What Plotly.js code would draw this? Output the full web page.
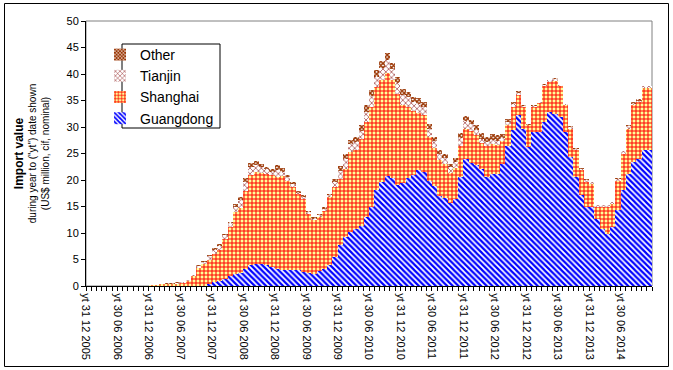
<!DOCTYPE html>
<html>
<head>
<meta charset="utf-8">
<script src="https://cdn.plot.ly/plotly-3.0.1.min.js"></script>
<style>html,body{margin:0;padding:0;background:#fff;}#chart{width:673px;height:370px;}</style>
</head>
<body>
<div id="chart"></div>
<script>
// Monthly categories, Dec 2005 .. Nov 2014
var months = [];
(function(){ var y = 2005, m = 12; for (var k = 0; k < 108; k++) { months.push(y + '-' + (m < 10 ? '0' + m : m)); m++; if (m > 12) { m = 1; y++; } } })();

var tickLabels = ["yt 31 12 2005","yt 30 06 2006","yt 31 12 2006","yt 30 06 2007","yt 31 12 2007","yt 30 06 2008","yt 31 12 2008","yt 30 06 2009","yt 31 12 2009","yt 30 06 2010","yt 31 12 2010","yt 30 06 2011","yt 31 12 2011","yt 30 06 2012","yt 31 12 2012","yt 30 06 2013","yt 31 12 2013","yt 30 06 2014"];

var guangdong = [0,0,0,0,0,0,0,0,0,0,0,0,
 0,0,0,0,0,0,0,0,0,0,0,0.4,0.7,1.0,1.4,1.8,2.2,2.5,3.2,4.0,
 4.1,4.1,3.9,3.6,3.3,3.1,3.1,3.1,3.0,2.7,2.4,2.3,2.8,3.3,3.9,5.5,
 7.8,9.2,10.2,10.8,11.4,13.0,14.9,18.1,19.6,20.7,20.3,19.0,19.4,20.4,21.0,21.9,
 21.6,19.9,18.8,17.0,16.6,15.7,16.5,20.6,24.0,23.3,22.8,22.0,20.6,21.2,21.2,23.1,
 26.5,29.4,32.2,29.7,26.2,29.1,29.1,30.9,32.8,32.5,31.9,29.1,24.3,20.6,17.1,14.9,
 14.9,12.7,10.8,9.9,11.1,14.3,18.1,21.2,23.4,24.0,25.6,25.7];

var shanghai = [0,0,0,0,0,0,0,0,0,0,0,0,
 0.2,0.25,0.3,0.35,0.4,0.45,0.6,0.9,1.8,3.4,4.2,4.6,5.3,5.8,7.5,9.4,11.8,12.3,14.8,17.0,
 17.5,17.3,17.3,17.3,17.3,17.7,16.8,15.6,14.3,13.8,11.2,10.1,10.3,10.9,12.8,13.2,
 12.4,12.9,15.1,14.8,16.4,17.9,18.9,19.4,19.2,19.4,18.5,17.3,14.7,13.4,12.1,10.7,
 10.6,8.2,7.2,6.7,6.4,5.7,5.8,5.9,5.7,5.9,5.6,5.0,5.9,5.6,5.4,4.2,
 3.8,4.4,3.9,4.1,4.1,4.7,5.4,6.8,5.7,6.2,5.8,5.0,5.4,5.0,4.7,4.7,
 4.4,2.2,4.1,5.0,4.4,5.6,6.9,8.5,10.7,10.7,11.8,11.7];

var tianjin = [0,0,0,0,0,0,0,0,0,0,0,0,
 0,0,0,0,0,0.1,0.1,0.2,0.2,0.4,0.4,0.6,0.8,0.8,0.7,0.6,1.0,1.4,1.6,1.4,
 1.2,1.0,0.8,0.7,1.3,0.8,0.6,0.5,0.3,0.3,0.3,0.3,0.3,0.4,0.4,0.9,
 1.5,1.9,1.4,1.6,1.5,2.0,2.0,2.0,2.4,2.5,2.1,2.0,2.0,1.8,1.6,1.8,
 1.6,1.5,1.3,1.2,1.2,1.0,1.1,1.4,1.5,1.3,1.0,0.8,0.6,0.7,0.7,0.6,
 0.6,0.5,0.3,0.2,0.1,0.2,0.2,0.3,0.3,0.3,0.2,0.2,0.3,0.3,0.3,0.4,
 0.3,0.3,0.3,0.3,0.3,0.3,0.4,0.5,0.3,0.3,0.3,0.3];

var other = [0,0,0,0,0,0,0,0,0,0,0,0,
 0,0,0.1,0.15,0.2,0.2,0.1,0.1,0.1,0.1,0.1,0.2,0.4,0.4,0.3,0.2,0.5,0.6,0.8,0.8,
 0.8,0.7,0.5,0.5,0.9,0.6,0.5,0.4,0.3,0.3,0.3,0.3,0.2,0.3,0.3,0.5,
 0.9,1.0,0.8,1.0,1.0,1.2,1.1,1.2,1.3,1.4,1.2,1.1,1.1,1.0,1.0,1.1,
 0.9,0.9,0.9,0.8,0.7,0.7,0.8,0.9,0.9,0.8,1.0,1.1,1.1,1.1,1.1,0.8,
 0.7,0.4,0.4,0.1,0.1,0.1,0.1,0.1,0.1,0.2,0.1,0.1,0.1,0.1,0.1,0.1,
 0.1,0.1,0.1,0.1,0.1,0.1,0.1,0.1,0.4,0.2,0.1,0.1];

var xs = months.map(function(_, i){ return i; });
var tickPos = tickLabels.map(function(_, k){ return k * 6 - 0.5; });

var FONT = 'Arial, "Liberation Sans", sans-serif';

function bar(name, vals, color, pat) {
  return { type: 'bar', name: name, x: xs, y: vals, text: months, textposition: 'none', hoverinfo: 'name+y',
    marker: { color: color, line: { width: 0 }, pattern: pat } };
}

var traces = [
  bar('Guangdong', guangdong, '#0000FF', { shape: '\\', fgcolor: '#0000FF', bgcolor: '#FFFFFF', size: 4, solidity: 0.55 }),
  bar('Shanghai', shanghai, '#FF0000', { shape: '+', fgcolor: '#FF0000', bgcolor: '#FFFF99', size: 4, solidity: 0.45 }),
  bar('Tianjin', tianjin, '#800000', { shape: 'x', fgcolor: '#800000', bgcolor: '#FFFFFF', size: 4, solidity: 0.25 }),
  bar('Other', other, '#993300', { shape: 'x', fgcolor: '#993300', bgcolor: '#FFFFFF', size: 3, solidity: 0.7 })
];

var L = 86, T = 21, W = 566, H = 265;
function px(x){ return (x - L) / W; }
function py(y){ return (T + H - y) / H; }

var layout = {
  width: 673, height: 370,
  margin: { l: L, r: 673 - L - W, t: T, b: 370 - T - H },
  paper_bgcolor: '#FFFFFF', plot_bgcolor: '#FFFFFF',
  barmode: 'stack', bargap: 0,
  font: { family: FONT, size: 11, color: '#000000' },
  showlegend: true,
  legend: { x: px(100), y: py(39), xanchor: 'left', yanchor: 'top', traceorder: 'reversed',
    bgcolor: 'rgba(0,0,0,0)', borderwidth: 0, font: { family: FONT, size: 14, color: '#000' },
    itemwidth: 30, tracegroupgap: 0 },
  xaxis: {
    range: [-0.5, 107.5], showgrid: false, zeroline: false,
    showline: true, linecolor: '#000', linewidth: 1,
    tickmode: 'array', tickvals: tickPos, ticktext: tickLabels,
    ticks: 'outside', ticklen: 4, tickcolor: '#000', tickangle: 90,
    tickfont: { family: FONT, size: 11, color: '#000' },
    minor: { ticks: 'outside', ticklen: 4, tickcolor: '#000', tick0: -0.5, dtick: 1, showgrid: false }
  },
  yaxis: {
    range: [0, 50], dtick: 5, tick0: 0, showgrid: false, zeroline: false,
    showline: true, linecolor: '#000', linewidth: 1,
    ticks: 'outside', ticklen: 4, tickcolor: '#000',
    tickfont: { family: FONT, size: 11, color: '#000' },
    title: { text: '<b style="font-size:12px">Import value</b><br>during year to ("yt") date shown<br>(US$ million, cif, nominal)',
      font: { family: FONT, size: 10, color: '#000' }, standoff: 15 }
  },
  shapes: [
    { type: 'rect', xref: 'paper', yref: 'paper', x0: 0, x1: 1, y0: 0, y1: 1,
      line: { color: '#808080', width: 1 }, layer: 'below' },
    { type: 'rect', xref: 'paper', yref: 'paper', x0: px(122), x1: px(220), y0: py(44), y1: py(128),
      line: { color: '#000', width: 1 }, fillcolor: '#FFFFFF', layer: 'below' },
    { type: 'rect', xref: 'paper', yref: 'paper', x0: px(4.5), x1: px(668.5), y0: py(3.5), y1: py(366.5),
      line: { color: '#000', width: 1 }, layer: 'above' }
  ]
};

Plotly.newPlot('chart', traces, layout, { displayModeBar: false, staticPlot: true });
</script>
</body>
</html>
